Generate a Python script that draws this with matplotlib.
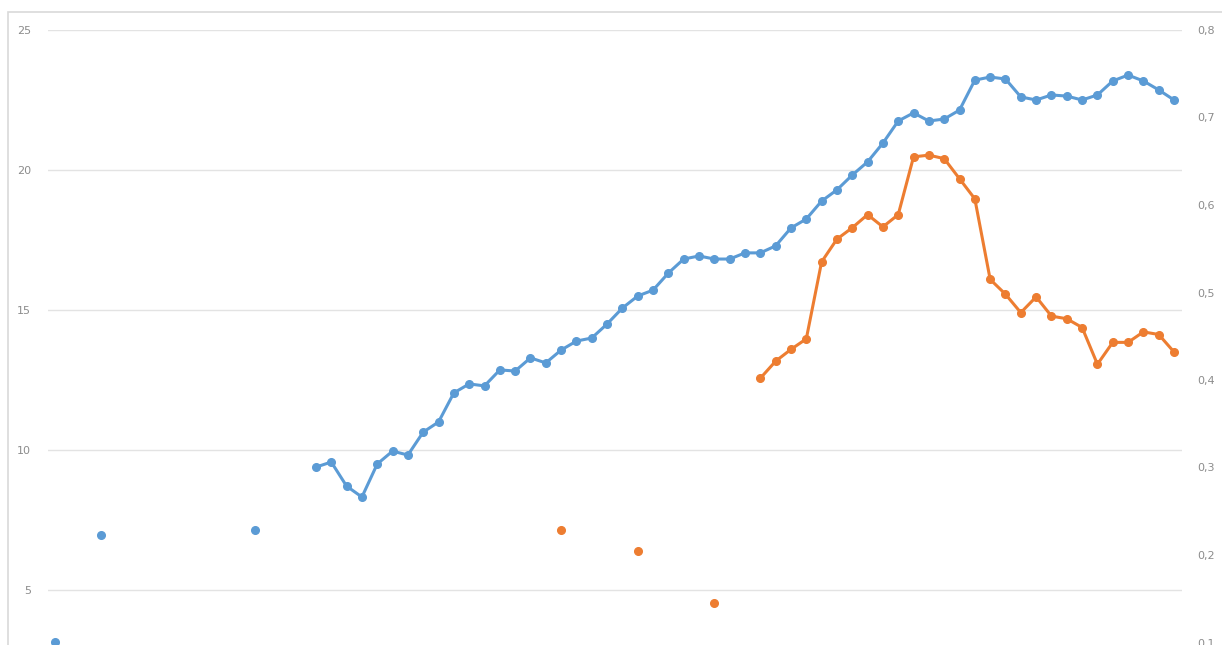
import numpy as np
import matplotlib
matplotlib.use("Agg")
import matplotlib.pyplot as plt
from matplotlib.patches import Rectangle
from matplotlib.ticker import FuncFormatter

# 74 categories, gaps are None
categories = list(range(74))

serie_izq = ([3.14, None, None, 6.96] + [None] * 9 + [7.14] + [None] * 3 +
             [9.39, 9.57, 8.71, 8.32, 9.50, 9.96, 9.82, 10.64, 11.00, 12.04,
              12.36, 12.29, 12.86, 12.82, 13.29, 13.11, 13.57, 13.89, 14.00, 14.50,
              15.07, 15.50, 15.71, 16.32, 16.82, 16.93, 16.82, 16.82, 17.04, 17.04,
              17.29, 17.93, 18.25, 18.89, 19.29, 19.82, 20.29, 20.96, 21.75, 22.04,
              21.75, 21.82, 22.14, 23.21, 23.32, 23.25, 22.61, 22.50, 22.68, 22.64,
              22.50, 22.68, 23.18, 23.39, 23.18, 22.86, 22.50])

serie_der = ([None] * 33 + [0.229] + [None] * 4 + [0.205] + [None] * 4 + [0.1455] +
             [None] * 2 +
             [0.402, 0.4215, 0.435, 0.447, 0.535, 0.561, 0.574, 0.589, 0.575, 0.589,
              0.655, 0.657, 0.653, 0.630, 0.607, 0.515, 0.498, 0.477, 0.495, 0.473,
              0.470, 0.460, 0.418, 0.443, 0.443, 0.455, 0.452, 0.432])

ticks_izq = [5, 10, 15, 20, 25]
ticks_der = [0.1, 0.2, 0.3, 0.4, 0.5, 0.6, 0.7, 0.8]

azul = "#5B9BD5"
naranja = "#ED7D31"
gris_txt = "#8C8C8C"

y1 = np.array([np.nan if v is None else v for v in serie_izq])
y2 = np.array([np.nan if v is None else v for v in serie_der])

fig = plt.figure(figsize=(12.22, 6.45), dpi=100)
# chart-area border (cropped picture)
fig.patches.append(Rectangle((8 / 1222, -0.5), 2, 1 - 12 / 645 + 0.5,
                             transform=fig.transFigure, fill=False,
                             edgecolor="#D9D9D9", linewidth=1.2))

ax = fig.add_axes([47.8 / 1222, 1 - 730 / 645, (1181.7 - 47.8) / 1222, 700 / 645])
ax2 = ax.twinx()

ax.plot(categories, y1, color=azul, lw=2.2, marker="o", ms=5.5, zorder=3)
ax2.plot(categories, y2, color=naranja, lw=2.2, marker="o", ms=5.5, zorder=3)

ax.set_xlim(-0.5, 73.5)
ax.set_ylim(0, 25)
ax2.set_ylim(0, 0.8)
ax.set_yticks(ticks_izq)
ax2.set_yticks(ticks_der)
ax2.yaxis.set_major_formatter(FuncFormatter(lambda v, p: f"{v:.1f}".replace(".", ",")))

ax.grid(axis="y", color="#E3E3E3", lw=1)
ax.set_axisbelow(True)
ax.set_xticks([])
for a in (ax, ax2):
    for s in a.spines.values():
        s.set_visible(False)
    a.tick_params(axis="y", length=0, labelsize=8, labelcolor=gris_txt)
ax.tick_params(axis="y", pad=12)
ax2.tick_params(axis="y", pad=11)

fig.savefig("out.png", dpi=100)
